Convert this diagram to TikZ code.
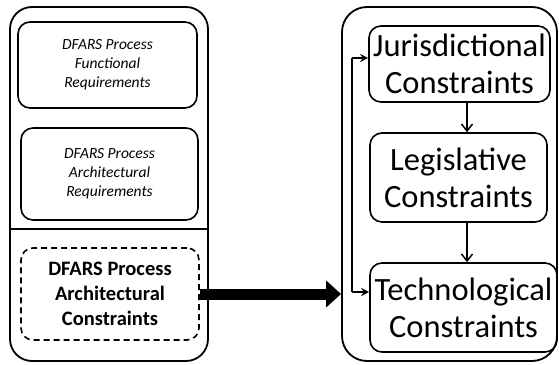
\documentclass[tikz,border=0pt]{standalone}
\usepackage{fontspec}
\setmainfont{Carlito}
\usetikzlibrary{arrows.meta}
\begin{document}
\begin{tikzpicture}[x=1pt,y=-1pt,
  box/.style={draw,line width=1.6pt,rounded corners=12pt,inner sep=0pt,align=center},
  ital/.style={font=\fontsize{15.5}{19}\selectfont\itshape},
  boldtxt/.style={font=\fontsize{20.5}{25}\selectfont\bfseries},
  big/.style={font=\fontsize{32.5}{37}\selectfont},
  downarr/.style={line width=1.5pt,-{Straight Barb[length=7pt,width=11pt,line width=1.5pt]}},
  sidearr/.style={line width=1.5pt,-{Stealth[length=8pt,width=8pt]}},
  thick arrow/.style={line width=11pt,-{Triangle[length=15pt,width=26pt]}}]
\useasboundingbox (0,0) rectangle (559,364);
% left container
\node[draw,line width=1.8pt,rounded corners=22pt,minimum width=198pt,minimum height=354pt,inner sep=0pt] (L) at (109,184) {};
\draw[line width=1.4pt] (L.west |- 0,229) -- (L.east |- 0,229);
\node[box,ital,minimum width=179pt,minimum height=86pt] (F) at (107.5,65) {DFARS Process\\Functional\\Requirements};
\node[box,ital,minimum width=177pt,minimum height=92pt] (A) at (109.5,174) {DFARS Process\\Architectural\\Requirements};
\node[box,boldtxt,dashed,dash pattern=on 6pt off 4pt,minimum width=178pt,minimum height=92pt] (D) at (110,294) {DFARS Process\\Architectural\\Constraints};
% right container
\node[draw,line width=1.8pt,rounded corners=25pt,minimum width=215pt,minimum height=354pt,inner sep=0pt] (R) at (449.5,184) {};
\node[box,big,minimum width=181pt,minimum height=76pt] (J) at (459.5,64) {Jurisdictional\\Constraints};
\node[box,big,minimum width=177pt,minimum height=89pt] (G) at (458.5,177.5) {Legislative\\Constraints};
\node[box,big,minimum width=187pt,minimum height=89pt] (T) at (463.5,307.5) {Technological\\Constraints};
\draw[downarr] (J.south -| 467,0) -- (G.north -| 467,0);
\draw[downarr] (G.south -| 467,0) -- (T.north -| 467,0);
\coordinate (b1) at (352,58);
\coordinate (b2) at (352,292);
\draw[line width=1.5pt] (b1) -- (b2);
\draw[sidearr] (b1) -- (J.west |- b1);
\draw[sidearr] (b2) -- (T.west |- b2);
\draw[thick arrow] (D.east) -- (R.west |- D.east);
\end{tikzpicture}
\end{document}
